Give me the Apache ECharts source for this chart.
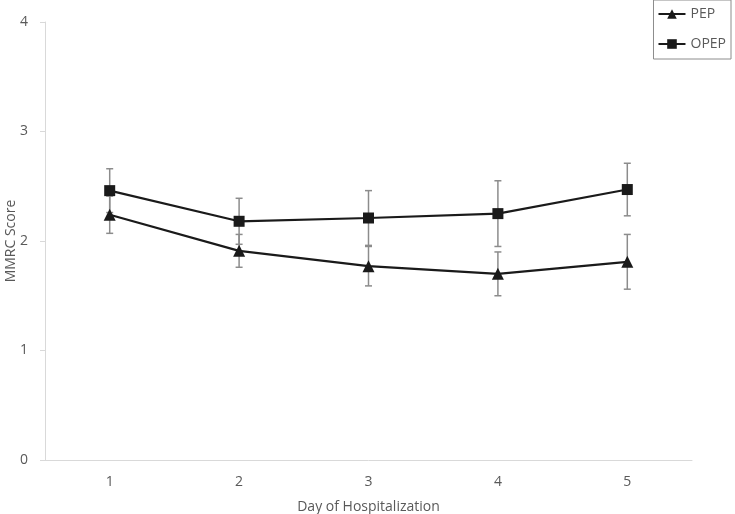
<!DOCTYPE html>
<html><head><meta charset="utf-8">
<script src="https://cdn.jsdelivr.net/npm/echarts@6/dist/echarts.min.js"></script>
<style>html,body{margin:0;padding:0;background:#fff}#c{width:735px;height:514px}</style>
</head><body><div id="c"></div>
<script>
const days = ['1','2','3','4','5'];
const pep = [2.24, 1.91, 1.77, 1.70, 1.81];
const pepErr = [0.17, 0.15, 0.18, 0.20, 0.25];
const opep = [2.46, 2.18, 2.21, 2.25, 2.47];
const opepErr = [0.20, 0.21, 0.25, 0.30, 0.24];
const yTicks = [0, 1, 2, 3, 4];

const chart = echarts.init(document.getElementById('c'));
const font = "'Open Sans', sans-serif";
function errSeries(vals, errs) {
  return {
    type: 'custom',
    silent: true,
    z: 1,
    data: vals.map((v, i) => [i, v - errs[i], v + errs[i]]),
    renderItem: function (params, api) {
      const lo = api.coord([api.value(0), api.value(1)]);
      const hi = api.coord([api.value(0), api.value(2)]);
      const w = 3.5;
      const st = { stroke: '#8c8c8c', lineWidth: 1.5 };
      return { type: 'group', children: [
        { type: 'line', shape: { x1: lo[0], y1: lo[1], x2: hi[0], y2: hi[1] }, style: st },
        { type: 'line', shape: { x1: lo[0]-w, y1: lo[1], x2: lo[0]+w, y2: lo[1] }, style: st },
        { type: 'line', shape: { x1: hi[0]-w, y1: hi[1], x2: hi[0]+w, y2: hi[1] }, style: st }
      ]};
    }
  };
}
chart.setOption({
  animation: false,
  textStyle: { fontFamily: font },
  grid: { left: 45, right: 43, top: 22, bottom: 54, containLabel: false, outerBoundsMode: 'none' },
  legend: {
    orient: 'vertical', right: 4, top: 0,
    data: ['PEP', 'OPEP'],
    borderColor: '#8c8c8c', borderWidth: 1,
    padding: [7, 5, 8, 4],
    itemWidth: 27, itemHeight: 12, itemGap: 16,
    textStyle: { color: '#595959', fontSize: 14, fontFamily: font }
  },
  xAxis: {
    type: 'category', data: days, boundaryGap: true,
    name: 'Day of Hospitalization', nameLocation: 'middle', nameGap: 40, nameMoveOverlap: false,
    nameTextStyle: { color: '#595959', fontSize: 14 },
    axisLine: { lineStyle: { color: '#d9d9d9', width: 1 } },
    axisTick: { lineStyle: { color: '#d9d9d9' }, length: 5 },
    axisLabel: { color: '#595959', fontSize: 14, margin: 15 }
  },
  yAxis: {
    type: 'value', min: yTicks[0], max: yTicks[yTicks.length-1], interval: 1,
    name: 'MMRC Score', nameLocation: 'middle', nameGap: 27, nameMoveOverlap: false,
    nameTextStyle: { color: '#595959', fontSize: 14 },
    axisLine: { show: true, lineStyle: { color: '#d9d9d9', width: 1 } },
    axisTick: { show: true, lineStyle: { color: '#d9d9d9' }, length: 5 },
    splitLine: { show: false },
    axisLabel: { color: '#595959', fontSize: 14, margin: 17 }
  },
  series: [
    errSeries(pep, pepErr),
    errSeries(opep, opepErr),
    { name: 'PEP', type: 'line', data: pep, z: 3, symbol: 'triangle', symbolSize: 12,
      lineStyle: { color: '#1a1a1a', width: 2.2 }, itemStyle: { color: '#1a1a1a' } },
    { name: 'OPEP', type: 'line', data: opep, z: 3, symbol: 'rect', symbolSize: 11,
      lineStyle: { color: '#1a1a1a', width: 2.2 }, itemStyle: { color: '#1a1a1a' } }
  ]
});
</script></body></html>
